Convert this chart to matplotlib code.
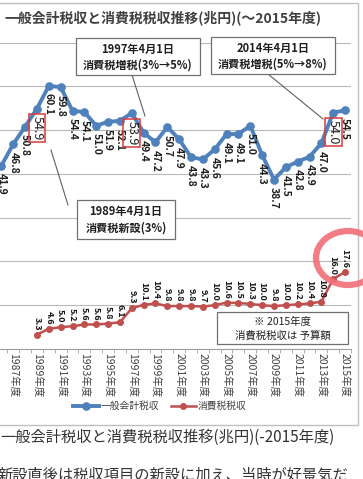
import matplotlib
matplotlib.use("Agg")
import matplotlib.pyplot as plt
from matplotlib.patches import Rectangle, Ellipse
from matplotlib.lines import Line2D

plt.rcParams['font.family'] = ['Noto Sans CJK JP', 'DejaVu Sans']

# ---- data ----
years_general = list(range(1986, 2016))
general_tax = [41.9, 46.8, 50.8, 54.9, 60.1, 59.8, 54.4, 54.1, 51.0, 51.9,
               52.1, 53.9, 49.4, 47.2, 50.7, 47.9, 43.8, 43.3, 45.6, 49.1,
               49.1, 51.0, 44.3, 38.7, 41.5, 42.8, 43.9, 47.0, 54.0, 54.5]
years_cons = list(range(1989, 2016))
cons_tax = [3.3, 4.6, 5.0, 5.2, 5.6, 5.6, 5.8, 6.1, 9.3, 10.1, 10.4, 9.8,
            9.8, 9.8, 9.7, 10.0, 10.6, 10.5, 10.3, 10.0, 9.8, 10.0, 10.2,
            10.4, 10.8, 16.0, 17.6]
tick_years = list(range(1987, 2016, 2))
tick_labels = [f"{y}年度" for y in tick_years]
highlight_years = [1989, 1997, 2014]
series_names = ["一般会計税収", "消費税税収"]

W, H = 363, 479
fig = plt.figure(figsize=(W / 100, H / 100), dpi=100)
fig.patch.set_facecolor('white')

def fx(px):
    return px / W

def fy(py):
    return 1 - py / H

# axes placement (left part clipped as in reference)
left_px, right_px = -4.5, 351.0
top_px, bot_px = 42.5, 349.0
ax = fig.add_axes([fx(left_px), fy(bot_px), (right_px - left_px) / W, (bot_px - top_px) / H])
ax.set_xlim(1985.5, 2015.5)
ax.set_ylim(0, 70)
ax.set_yticks(range(0, 71, 10))
ax.yaxis.grid(True, color='#b8b8b8', lw=0.8)
ax.set_axisbelow(True)
ax.tick_params(axis='y', left=False, labelleft=False)
for s in ['top', 'right', 'left']:
    ax.spines[s].set_visible(False)
ax.spines['bottom'].set_color('#a0a0a0')
ax.set_xticks(tick_years)
ax.set_xticklabels(tick_labels, rotation=270, fontsize=7.5, color='#404040')
ax.set_xticks([y + 0.5 for y in range(1985, 2016)], minor=True)
ax.tick_params(axis='x', which='major', length=0, pad=3)
ax.tick_params(axis='x', which='minor', length=3, color='#a0a0a0')

blue = '#4f81bd'
red = '#c0504d'
l1, = ax.plot(years_general, general_tax, color=blue, lw=2.8, marker='o', ms=5.2, zorder=3)
l2, = ax.plot(years_cons, cons_tax, color=red, lw=1.8, marker='o', ms=4, zorder=3)

for x, v in zip(years_general, general_tax):
    if x in highlight_years:
        ax.annotate(f"{v:.1f}", (x, v), xytext=(0, -5.5), textcoords='offset points',
                    rotation=270, ha='center', va='top', fontsize=9, color='#202020',
                    bbox=dict(boxstyle='square,pad=0.15', fc='none', ec='#d83a3a', lw=1.1))
    else:
        ax.annotate(f"{v:.1f}", (x, v), xytext=(0, -5.5), textcoords='offset points',
                    rotation=270, ha='center', va='top', fontsize=7.5, fontweight='bold',
                    color='#202020')
for x, v in zip(years_cons, cons_tax):
    ax.annotate(f"{v:.1f}", (x, v), xytext=(0, 3), textcoords='offset points',
                rotation=270, ha='center', va='bottom', fontsize=6.5, fontweight='bold',
                color='#151515')

# chart border
fig.patches.append(Rectangle((fx(-10), fy(425)), fx(368), (425 - 3) / H, transform=fig.transFigure,
                             fill=False, ec='#c0c0c0', lw=1.0, zorder=0.5))

# title
fig.text(fx(4), fy(18), "一般会計税収と消費税税収推移(兆円)(～2015年度)", fontsize=10,
         fontweight='bold', color='#404040', ha='left', va='center')

def box(x0, y0, x1, y1, lines, sizes, weights):
    fig.patches.append(Rectangle((fx(x0), fy(y1)), (x1 - x0) / W, (y1 - y0) / H,
                                 transform=fig.transFigure, fc='white', ec='#707070', lw=0.9, zorder=4))
    n = len(lines)
    for i, (t, s, w) in enumerate(zip(lines, sizes, weights)):
        yy = y0 + (y1 - y0) * (i + 0.5) / n + (2 if i == 0 else -1)
        fig.text(fx((x0 + x1) / 2), fy(yy), t, fontsize=s, fontweight=w, color='#202020',
                 ha='center', va='center', zorder=5)

def leader(p, q):
    fig.lines.append(Line2D([fx(p[0]), fx(q[0])], [fy(p[1]), fy(q[1])], transform=fig.transFigure,
                            color='#606060', lw=0.8, zorder=4))

box(76, 38, 200, 75, ["1997年4月1日", "消費税増税(3%→5%)"], [8, 8], ['bold', 'bold'])
box(211, 37, 335, 74, ["2014年4月1日", "消費税増税(5%→8%)"], [8, 8], ['bold', 'bold'])
box(77, 200, 175, 239, ["1989年4月1日", "消費税新設(3%)"], [8, 8], ['bold', 'bold'])
box(217, 312, 348, 344, ["※ 2015年度", "消費税税収は 予算額"], [7.5, 7.5], ['normal', 'normal'])
leader((68, 205), (51, 150))
leader((132, 75), (145, 116))
leader((268, 74), (323, 119))

# pink hand-drawn circle
fig.patches.append(Ellipse((fx(348), fy(258)), 64 / W, 54 / H, angle=0, transform=fig.transFigure,
                           fill=False, ec='#f26f78', lw=4.5, alpha=0.9, zorder=6))

# legend
fig.legend([l1, l2], series_names, loc='center', bbox_to_anchor=(fx(160), fy(406)), ncol=2,
           frameon=False, fontsize=7, handlelength=2.6, columnspacing=1.2, handletextpad=0.2,
           labelcolor='#404040')

# captions below chart
fig.text(fx(0), fy(437), "一般会計税収と消費税税収推移(兆円)(-2015年度)", fontsize=11,
         fontstyle='italic', color='#333333', ha='left', va='center')
fig.text(fx(-2), fy(467), "新設直後は税収項目の新設に加え、当時が好景気だ", fontsize=11,
         color='#333333', ha='left', va='top')

fig.savefig("out.png", dpi=100, facecolor='white')
